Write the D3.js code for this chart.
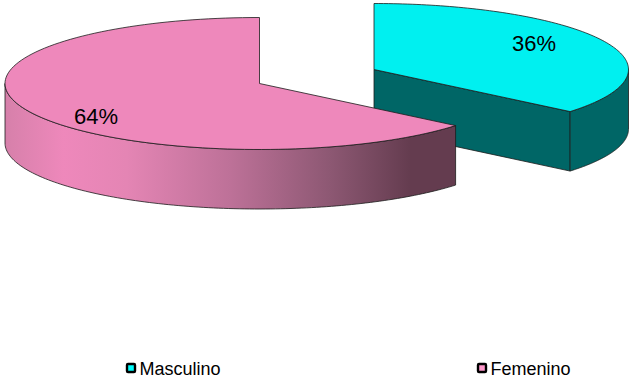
<!DOCTYPE html>
<html>
<head>
<meta charset="utf-8">
<script src="https://cdn.jsdelivr.net/npm/d3@7"></script>
<style>
  html, body { margin: 0; padding: 0; background: #fff; }
  svg { display: block; }
  text { font-family: "Liberation Sans", Arial, sans-serif; fill: #000; }
</style>
</head>
<body>
<div id="chart"></div>
<script>
const categories = ["Masculino", "Femenino"];
const values = [36, 64];
const labels = ["36%", "64%"];

const width = 631, height = 379;
const rx = 254.5, ry = 66, depth = 59.5;

const topColor = ["#00f0f0", "#ee88bb"];
const sideColor = "#006666";
const edge = "#1c1c1c";

const svg = d3.select("#chart").append("svg")
  .attr("width", width)
  .attr("height", height);

const grad = svg.append("defs").append("linearGradient")
  .attr("id", "pinkSide")
  .attr("gradientUnits", "userSpaceOnUse")
  .attr("x1", 5).attr("x2", 456).attr("y1", 0).attr("y2", 0);
[[0, "#d680aa"], [0.13, "#ee88bb"], [0.27, "#e485b4"], [0.5, "#bd7198"], [0.72, "#8d5873"], [0.9, "#643c4f"], [1, "#643c4f"]]
  .forEach(s => grad.append("stop").attr("offset", s[0]).attr("stop-color", s[1]));

const pie = d3.pie().sort(null).value(d => d);
const arcs = pie(values);

// each slice has its own exploded centre
const centers = [[374, 69.5], [259.5, 83.5]];

const x = d3.scaleLinear().domain([-1, 1]);
const y = d3.scaleLinear().domain([-1, 1]);
const line = d3.line().x(d => d[0]).y(d => d[1]);

function setCenter(c) {
  x.range([c[0] - rx, c[0] + rx]);
  y.range([c[1] - ry, c[1] + ry]);
}
const pt = (a, dy = 0) => [x(Math.sin(a)), y(-Math.cos(a)) + dy];
const rim = (a0, a1, dy = 0) => d3.range(0, 121).map(i => pt(a0 + (a1 - a0) * i / 120, dy));

arcs.forEach((d, i) => {
  setCenter(centers[i]);
  const g = svg.append("g");
  const c = centers[i];

  if (i === 0) {
    // cut face, runs from centre out to the end of the slice
    const e = pt(d.endAngle);
    g.append("path")
      .attr("d", line([c, e, [e[0], e[1] + depth], [c[0], c[1] + depth]]) + "Z")
      .attr("fill", sideColor).attr("stroke", edge).attr("stroke-width", 0.8);
    // outer wall
    g.append("path")
      .attr("d", line(rim(Math.PI / 2, d.endAngle).concat(rim(d.endAngle, Math.PI / 2, depth))) + "Z")
      .attr("fill", sideColor).attr("stroke", edge).attr("stroke-width", 0.8);
  } else {
    // outer wall, only the front half shows
    g.append("path")
      .attr("d", line(rim(d.startAngle, 3 * Math.PI / 2).concat(rim(3 * Math.PI / 2, d.startAngle, depth))) + "Z")
      .attr("fill", "url(#pinkSide)").attr("stroke", edge).attr("stroke-width", 0.8);
  }

  g.append("path")
    .attr("d", line([c].concat(rim(d.startAngle, d.endAngle))) + "Z")
    .attr("fill", topColor[i]).attr("stroke", edge).attr("stroke-width", 0.8).attr("stroke-linejoin", "round");
});

// data labels
const labelPos = [[534, 51], [96, 124]];
svg.selectAll("text.pct")
  .data(labels)
  .join("text")
  .attr("class", "pct")
  .attr("x", (d, i) => labelPos[i][0])
  .attr("y", (d, i) => labelPos[i][1])
  .attr("text-anchor", "middle")
  .attr("font-size", 22)
  .text(d => d);

// legend
const legendX = d3.scalePoint().domain(categories).range([127, 478]);
const legend = svg.selectAll("g.leg")
  .data(categories)
  .join("g")
  .attr("class", "leg")
  .attr("transform", d => `translate(${legendX(d)},364)`);
legend.append("rect")
  .attr("width", 8).attr("height", 8).attr("rx", 1)
  .attr("fill", (d, i) => i === 0 ? "#00ffff" : "#ff99cc")
  .attr("stroke", "#000").attr("stroke-width", 2.4);
legend.append("text")
  .attr("x", 12.5).attr("y", 11)
  .attr("font-size", 18)
  .text(d => d);
</script>
</body>
</html>
